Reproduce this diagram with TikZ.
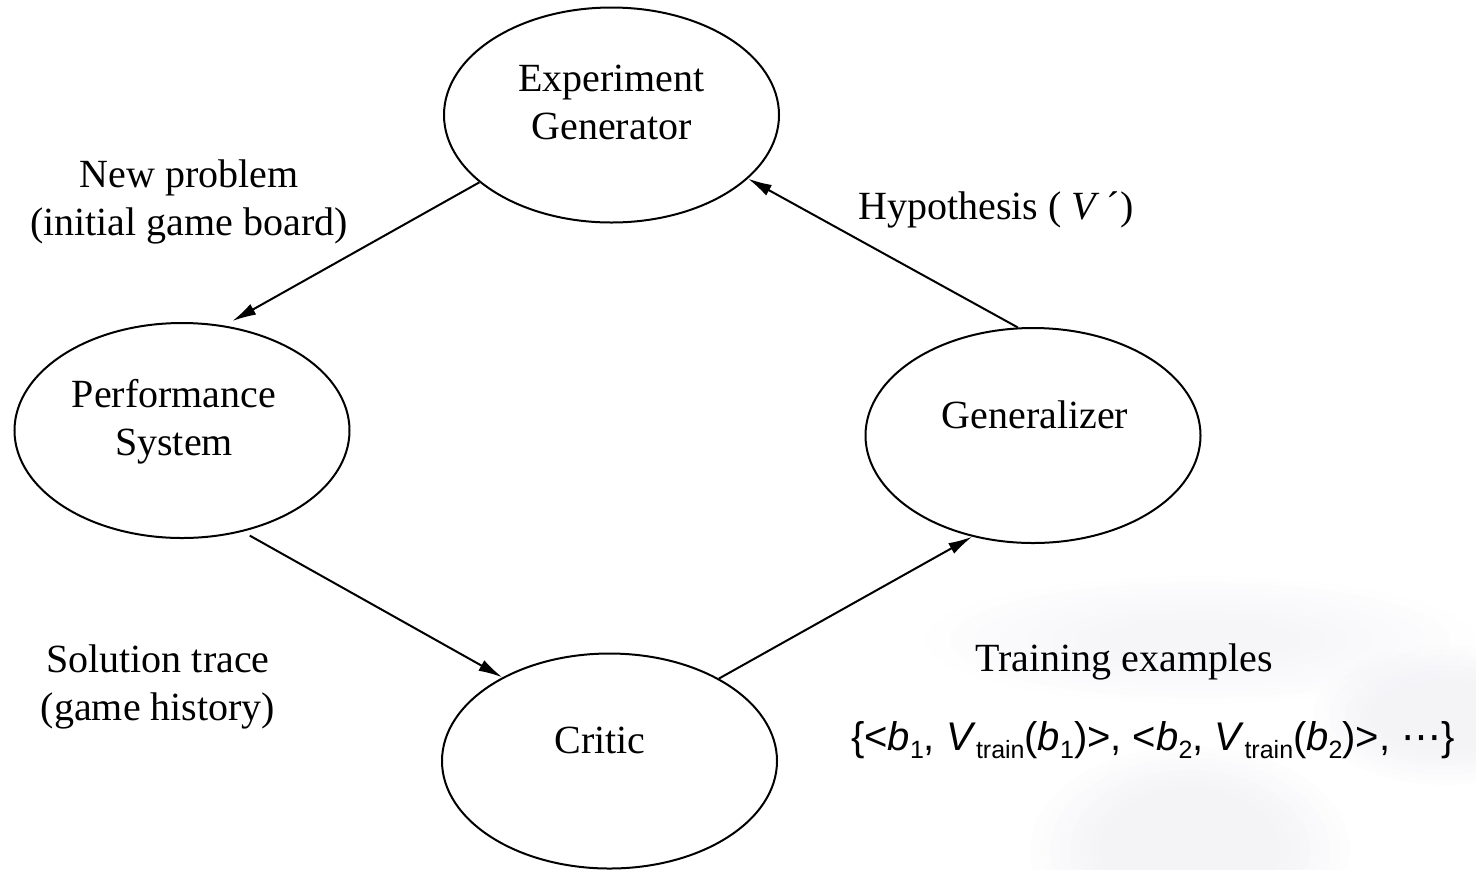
\documentclass[tikz,border=0pt]{standalone}
\usepackage{fontspec}
\setmainfont{Liberation Serif}
\newfontfamily\sansf{Liberation Sans}
\newfontfamily\dotsf{DejaVu Sans}
\usetikzlibrary{arrows.meta,shapes.geometric}

\definecolor{stone}{RGB}{214,214,228}
\newcommand\lowsub[1]{\raisebox{-4pt}{\fontsize{12.5}{12.5}\selectfont #1}}

\begin{document}
\begin{tikzpicture}[x=0.5pt, y=-0.5pt, font=\fontsize{20}{24}\selectfont,
  stage/.style={draw, ellipse, line width=1pt, minimum width=167.5pt, minimum height=107.5pt, inner sep=0pt},
  flow/.style={-{Latex[length=12pt,width=6pt]}, line width=1pt},
  note/.style={align=center}]

\useasboundingbox (0,0) rectangle (1476,869);

% faint backdrop, lower right
\begin{scope}
\clip (0,0) rectangle (1476,869);
\foreach \k in {1,...,8}
  \fill[stone, opacity=0.03] (1200,640) ellipse ({300-25*\k} and {70-6*\k});
\foreach \k in {1,...,8}
  \fill[stone, opacity=0.04] (1190,850) ellipse ({170-10*\k} and {110-6*\k});
\foreach \k in {1,...,8}
  \fill[stone, opacity=0.04] (1445,715) ellipse ({140-8*\k} and {75-5*\k});
\end{scope}

% ==== Stages ====
\node[stage, label={[note, yshift=6.5pt]center:Experiment\\Generator}] (EG) at (611.5,115) {};
\node[stage, label={[note, yshift=4.25pt, xshift=-4pt]center:Performance\\System}] (PS) at (182,430.5) {};
\node[stage, label={[yshift=10.5pt, xshift=1pt]center:Generalizer}] (GE) at (1033,435.5) {};
\node[stage, label={[yshift=10.5pt, xshift=-4.75pt]center:Critic}] (CR) at (609.5,761) {};

% ==== Labels ====
\node[note] (NP) at (189,202) {New problem\\(initial game board)};
\node (HY) at (996,210) {Hypothesis ( \textit{V}\,´)};
\node[note] (ST) at (158,687) {Solution trace\\(game history)};
\node (TE) at (1124,662) {Training examples};

% training set
\node[font=\sansf\fontsize{20}{24}\selectfont] (TS) at (1153,740)
  {\{<\textit{b}\lowsub{1}, \textit{V}\lowsub{train}(\textit{b}\lowsub{1})>, <\textit{b}\lowsub{2}, \textit{V}\lowsub{train}(\textit{b}\lowsub{2})>, {\dotsf ⋯}\}};

% ==== Arrows ====
\draw[flow, shorten >=4.5pt] (EG.207) -- (PS.68);
\draw[flow] (GE.98) -- (EG.-25);
\draw[flow, shorten <=4pt] (PS.-59) -- (CR.142.5);
\draw[flow] (CR.37) -- (GE.239.5);

\end{tikzpicture}
\end{document}
